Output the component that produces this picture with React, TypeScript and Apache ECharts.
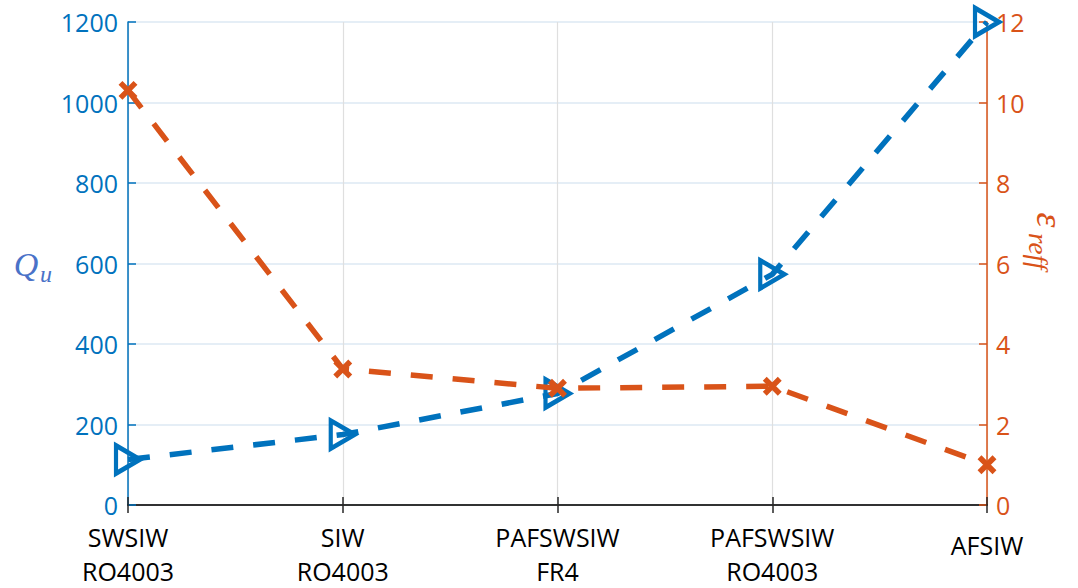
import React, { useEffect, useRef } from "react";
import * as echarts from "echarts";

const categories = ["SWSIW\nRO4003", "SIW\nRO4003", "PAFSWSIW\nFR4", "PAFSWSIW\nRO4003", "AFSIW"];
const quValues = [113, 175, 277, 573, 1200];
const epsValues = [10.3, 3.38, 2.9, 2.95, 1.0];
const leftTicks = { min: 0, max: 1200, interval: 200 };
const rightTicks = { min: 0, max: 12, interval: 2 };

const BLUE = "#0072BD";
const ORANGE = "#D95319";
const FONT = '"Open Sans", "Noto Sans", sans-serif';

export default function App() {
  const ref = useRef<HTMLDivElement>(null);
  useEffect(() => {
    if (!ref.current) return;
    const chart = echarts.init(ref.current, undefined, { renderer: "svg" });
    chart.setOption({
      animation: false,
      backgroundColor: "#ffffff",
      grid: { left: 128, right: 91, top: 22, bottom: 80, containLabel: false },
      xAxis: [
        {
          type: "category",
          data: categories,
          boundaryGap: false,
          position: "bottom",
          axisLine: { show: true, lineStyle: { color: "#262626", width: 1.5 } },
          axisTick: { show: true, inside: true, length: 8, alignWithLabel: true, lineStyle: { color: "#262626", width: 1.5 } },
          axisLabel: {
            color: "#000",
            fontFamily: FONT,
            fontSize: 25,
            lineHeight: 34,
            margin: 15,
            interval: 0,
            formatter: (v: string) => (v.indexOf("\n") >= 0 ? v : `{one|${v}}`),
            rich: { one: { fontFamily: FONT, fontSize: 25, lineHeight: 50, color: "#000" } },
          },
          splitLine: { show: true, lineStyle: { color: "#dfdfdf", width: 1.2 } },
        },
        {
          type: "category",
          data: categories,
          boundaryGap: false,
          position: "top",
          axisLine: { show: true, lineStyle: { color: "#262626", width: 1.5 } },
          axisTick: { show: true, inside: true, length: 8, lineStyle: { color: "#262626", width: 1.5 } },
          axisLabel: { show: false },
          splitLine: { show: false },
        },
      ],
      yAxis: [
        {
          type: "value",
          position: "left",
          min: leftTicks.min,
          max: leftTicks.max,
          interval: leftTicks.interval,
          axisLine: { show: true, lineStyle: { color: BLUE, width: 1.5 } },
          axisTick: { show: true, inside: true, length: 8, lineStyle: { color: BLUE, width: 1.5 } },
          axisLabel: { color: BLUE, fontFamily: FONT, fontSize: 25, margin: 10, formatter: (v: number) => String(v) },
          splitLine: { show: true, lineStyle: { color: "#dde9f3", width: 1.5 } },
        },
        {
          type: "value",
          position: "right",
          min: rightTicks.min,
          max: rightTicks.max,
          interval: rightTicks.interval,
          axisLine: { show: true, lineStyle: { color: ORANGE, width: 1.5 } },
          axisTick: { show: true, inside: true, length: 8, lineStyle: { color: ORANGE, width: 1.5 } },
          axisLabel: { color: ORANGE, fontFamily: FONT, fontSize: 25, margin: 9, formatter: (v: number) => String(v) },
          splitLine: { show: false },
        },
      ],
      series: [
        {
          name: "Qu",
          type: "line",
          xAxisIndex: 0,
          yAxisIndex: 0,
          data: quValues,
          symbol: "path://M0,0 L10,6 L0,12 Z",
          symbolSize: [24, 28],
          symbolKeepAspect: false,
          itemStyle: { color: "rgba(0,0,0,0)", borderColor: BLUE, borderWidth: 4.5 },
          lineStyle: { color: BLUE, width: 5.5, type: [22, 20] },
          z: 2,
        },
        {
          name: "eps",
          type: "line",
          xAxisIndex: 0,
          yAxisIndex: 1,
          data: epsValues,
          symbol: "path://M0,0 L10,10 M10,0 L0,10",
          symbolSize: 15,
          itemStyle: { color: "rgba(0,0,0,0)", borderColor: ORANGE, borderWidth: 5.5 },
          lineStyle: { color: ORANGE, width: 5.5, type: [22, 20] },
          z: 3,
        },
      ],
      graphic: [
        {
          type: "group",
          x: 26,
          y: 264,
          children: [
            {
              type: "text",
              x: 0,
              y: 0,
              style: { text: "Q", font: 'italic 34px "Liberation Serif", serif', fill: "#4a72c8", textAlign: "center", textVerticalAlign: "middle" },
            },
            {
              type: "text",
              x: 20,
              y: 10,
              style: { text: "u", font: 'italic 24px "Liberation Serif", serif', fill: "#4a72c8", textAlign: "center", textVerticalAlign: "middle" },
            },
          ],
        },
        {
          type: "group",
          x: 1050,
          y: 252,
          rotation: -Math.PI / 2,
          children: [
            {
              type: "text",
              x: -32,
              y: 0,
              style: { text: "ε", font: 'italic 38px "Liberation Serif", serif', fill: ORANGE, textAlign: "center", textVerticalAlign: "middle" },
            },
            {
              type: "text",
              x: -19,
              y: 12,
              style: { text: "reff", font: 'italic 27px "Liberation Serif", serif', fill: ORANGE, textAlign: "left", textVerticalAlign: "middle" },
            },
          ],
        },
      ],
    });
    return () => chart.dispose();
  }, []);
  return <div ref={ref} style={{ position: "absolute", left: 0, top: 0, width: 1078, height: 588 }} />;
}
